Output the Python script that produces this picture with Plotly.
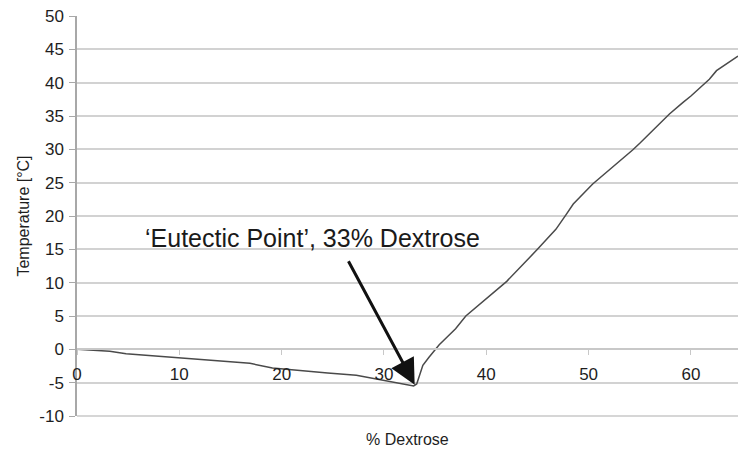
import plotly.graph_objects as go

dextrose = [0, 1.5, 3.2, 4.8, 7, 10, 13, 16.9, 19.1, 21.8, 24.5, 27.3, 30.6, 32.0, 32.9,
            33.2, 33.5, 33.8, 34.4, 34.8, 35.4, 36.2, 37.0, 38.0, 40, 42, 45, 46.8, 47.8,
            48.5, 50.4, 52.5, 54.3, 55.0, 56.8, 57.9, 59.2, 60.0, 61.8, 62.5, 64.6]
temperature = [0, -0.1, -0.3, -0.65, -0.9, -1.3, -1.65, -2.1, -2.8, -3.2, -3.55, -3.9, -4.8, -5.2, -5.5,
               -5.2, -3.8, -2.4, -1.2, -0.4, 0.7, 1.9, 3.1, 5.0, 7.6, 10.2, 15.0, 18.0, 20.2,
               21.8, 24.8, 27.5, 29.9, 30.9, 33.7, 35.3, 37.0, 38.0, 40.5, 41.8, 44.0]

x_ticks = [0, 10, 20, 30, 40, 50, 60]
y_ticks = [-10, -5, 0, 5, 10, 15, 20, 25, 30, 35, 40, 45, 50]
y_tick_labels = [str(v) for v in y_ticks]

eutectic_x = 33
eutectic_y = -5.3
annotation_text = "‘Eutectic Point’, 33% Dextrose"

FONT = "Liberation Sans, Arial, sans-serif"

fig = go.Figure()
fig.add_trace(go.Scatter(x=dextrose, y=temperature, mode="lines",
                         line=dict(color="#4a4a4a", width=1.5), showlegend=False))

fig.update_layout(
    width=738, height=454,
    margin=dict(l=77, r=0, t=16, b=38),
    paper_bgcolor="white", plot_bgcolor="white",
    font=dict(family=FONT, color="#222222", size=17),
    xaxis=dict(range=[0, 64.6], tickvals=x_ticks, showgrid=False, zeroline=False,
               anchor="free", position=10/60, showline=True, linecolor="#c8c8c8", linewidth=1.5,
               ticks="outside", ticklen=5, tickcolor="#c8c8c8", tickwidth=1,
               tickfont=dict(size=17, family=FONT, color="#1e1e1e"),
               ticklabelstandoff=5),
    yaxis=dict(range=[-10, 50], tickvals=y_ticks, ticktext=y_tick_labels,
               showgrid=True, gridcolor="#d2d2d2", gridwidth=1.5,
               zeroline=False, showline=True, linecolor="#a8a8a8", linewidth=1.5,
               ticks="outside", ticklen=6, tickcolor="#a8a8a8",
               tickfont=dict(size=17, family=FONT, color="#1e1e1e"),
               ticklabelstandoff=2,
               title=dict(text="Temperature [°C]", font=dict(size=16, family=FONT, color="#1e1e1e"),
                          standoff=6)),
    shapes=[dict(type="line", xref="paper", yref="paper", x0=0, x1=1, y0=0, y1=0,
                 line=dict(color="#c8c8c8", width=1.5), layer="below")],
    annotations=[
        dict(x=eutectic_x, y=eutectic_y, xref="x", yref="y", text="", showarrow=True,
             ax=-67, ay=-125, axref="pixel", ayref="pixel", arrowhead=2, arrowsize=1.7,
             arrowwidth=3, arrowcolor="#111111"),
        dict(x=0.356, y=0.445, xref="paper", yref="paper", text=annotation_text, showarrow=False,
             font=dict(size=25, family=FONT, color="#1a1a1a"), xanchor="center", yanchor="middle"),
        dict(x=0.5, y=-0.058, xref="paper", yref="paper", text="% Dextrose", showarrow=False,
             font=dict(size=16, family=FONT, color="#1e1e1e"), xanchor="center", yanchor="middle"),
    ],
)

fig.write_html("out.html")
